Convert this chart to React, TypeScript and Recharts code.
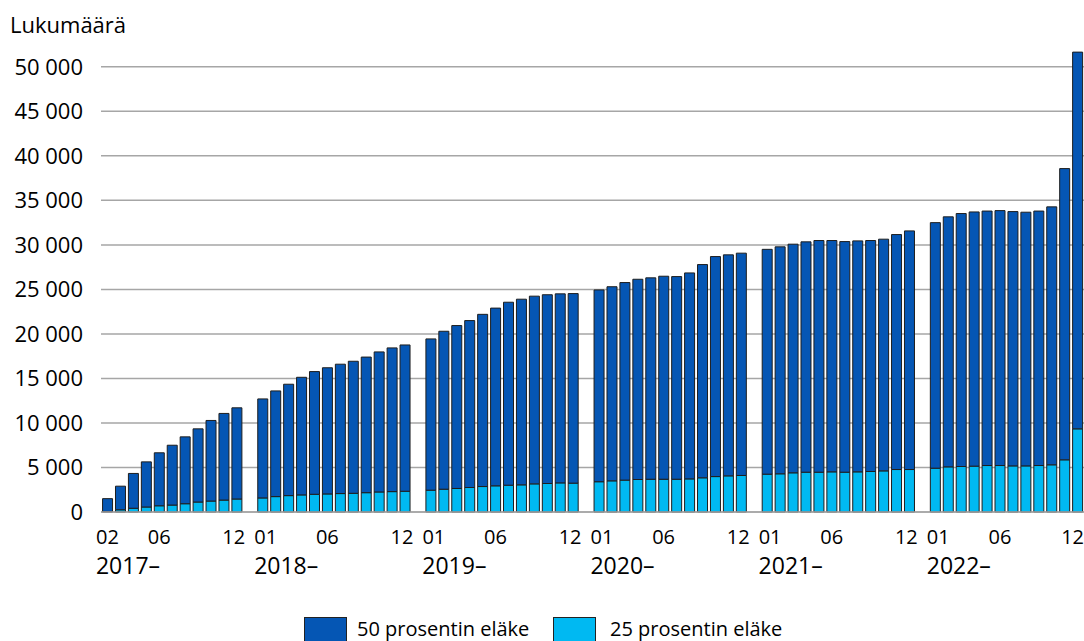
import { BarChart, Bar, XAxis, YAxis, CartesianGrid } from 'recharts';

const FONT = '"Open Sans", sans-serif';
const DARK = '#0556b4';
const LIGHT = '#00b9f2';

const years = ['2017', '2018', '2019', '2020', '2021', '2022'];
const firstMonths = [2, 1, 1, 1, 1, 1];
const labelledMonths = ['01', '06', '12'];
const yTicks = [0, 5000, 10000, 15000, 20000, 25000, 30000, 35000, 40000, 45000, 50000];

// 50 prosentin eläke, one row per year
const pension50 = [
  [1440, 2650, 3910, 5070, 5950, 6720, 7510, 8220, 9050, 9730, 10240],
  [11120, 11870, 12510, 13210, 13780, 14170, 14530, 14830, 15230, 15730, 16140, 16430],
  [16990, 17740, 18300, 18750, 19340, 19960, 20550, 20850, 21080, 21200, 21230, 21290],
  [21540, 21800, 22190, 22490, 22620, 22800, 22760, 23130, 23950, 24710, 24820, 24970],
  [25250, 25490, 25680, 25870, 26020, 25980, 25900, 25940, 25940, 26020, 26390, 26800],
  [27580, 28080, 28410, 28550, 28580, 28630, 28560, 28490, 28580, 28970, 32710, 42310],
];

// 25 prosentin eläke
const pension25 = [
  [60, 250, 420, 560, 700, 780, 930, 1120, 1230, 1340, 1460],
  [1580, 1730, 1840, 1920, 1990, 2030, 2070, 2100, 2170, 2250, 2290, 2330],
  [2450, 2560, 2640, 2750, 2860, 2940, 3010, 3050, 3160, 3200, 3270, 3240],
  [3400, 3500, 3580, 3650, 3680, 3680, 3680, 3720, 3840, 3980, 4060, 4100],
  [4250, 4290, 4400, 4470, 4470, 4510, 4470, 4510, 4550, 4620, 4770, 4770],
  [4920, 5070, 5110, 5150, 5220, 5220, 5180, 5180, 5220, 5300, 5860, 9340],
];

type Row = { key: string; month: string; year: string; first: boolean; p50: number | null; p25: number | null };

const data: Row[] = [];
years.forEach((year, yi) => {
  pension50[yi].forEach((v, mi) => {
    const month = String(firstMonths[yi] + mi).padStart(2, '0');
    data.push({ key: `${year}-${month}`, month, year, first: mi === 0, p50: v, p25: pension25[yi][mi] });
  });
  if (yi < years.length - 1) {
    data.push({ key: `gap-${year}`, month: '', year: '', first: false, p50: null, p25: null });
  }
});

const fmt = (n: number) => String(n).replace(/\B(?=(\d{3})+(?!\d))/g, ' ');

function MonthTick(props: any) {
  const { x, y, index } = props;
  const row = data[index];
  if (!row || !row.month) return null;
  const showMonth = row.first || labelledMonths.includes(row.month);
  const isLast = index === data.length - 1;
  // excel nudges 12 left and 01 right so they don't collide across the gap
  let mx = x;
  if (row.month === '12') mx = x - 3;
  if (row.month === '01') mx = x + 3;
  return (
    <g>
      {showMonth && (
        <text
          x={isLast ? 1084 : mx}
          y={y + 32}
          textAnchor={isLast ? 'end' : 'middle'}
          fontSize={20}
          fontFamily={FONT}
          fill="#000"
        >
          {row.month}
        </text>
      )}
      {row.first && (
        <text x={mx - 11.5} y={y + 62} textAnchor="start" fontSize={23} fontFamily={FONT} fill="#000">
          {row.year}–
        </text>
      )}
    </g>
  );
}

export default function App() {
  return (
    <div style={{ position: 'absolute', left: 0, top: 0, width: 1084, height: 641, overflow: 'hidden', background: '#fff' }}>
      <div style={{ position: 'absolute', left: 10, top: 9, fontFamily: FONT, fontSize: 22, color: '#000' }}>Lukumäärä</div>
      <BarChart
        width={1084}
        height={641}
        data={data}
        margin={{ top: 49, right: 0, left: 0, bottom: 59 }}
        barCategoryGap="12%"
      >
        <CartesianGrid vertical={false} horizontalValues={yTicks} stroke="#a6a6a6" strokeWidth={1.5} />
        <XAxis
          dataKey="key"
          interval={0}
          height={70}
          tickLine={false}
          tickSize={0}
          tickMargin={0}
          axisLine={{ stroke: '#a6a6a6', strokeWidth: 1.5 }}
          tick={<MonthTick />}
        />
        <YAxis
          width={101}
          domain={[0, 52000]}
          ticks={yTicks}
          interval={0}
          axisLine={false}
          tickLine={false}
          tickSize={0}
          tickMargin={18}
          tickFormatter={fmt}
          tick={{ fontSize: 22, fontFamily: FONT, fill: '#000' }}
        />
        <Bar dataKey="p25" stackId="a" fill={LIGHT} stroke="#1e1e1e" strokeWidth={1} isAnimationActive={false} />
        <Bar dataKey="p50" stackId="a" fill={DARK} stroke="#1e1e1e" strokeWidth={1} isAnimationActive={false} />
      </BarChart>
      <div style={{ position: 'absolute', left: 304, top: 617, width: 41, height: 30, background: DARK, border: '1px solid #222' }} />
      <div style={{ position: 'absolute', left: 357, top: 615, fontFamily: FONT, fontSize: 20, color: '#000', whiteSpace: 'nowrap' }}>
        50 prosentin eläke
      </div>
      <div style={{ position: 'absolute', left: 553, top: 617, width: 41, height: 30, background: LIGHT, border: '1px solid #222' }} />
      <div style={{ position: 'absolute', left: 610, top: 615, fontFamily: FONT, fontSize: 20, color: '#000', whiteSpace: 'nowrap' }}>
        25 prosentin eläke
      </div>
    </div>
  );
}
